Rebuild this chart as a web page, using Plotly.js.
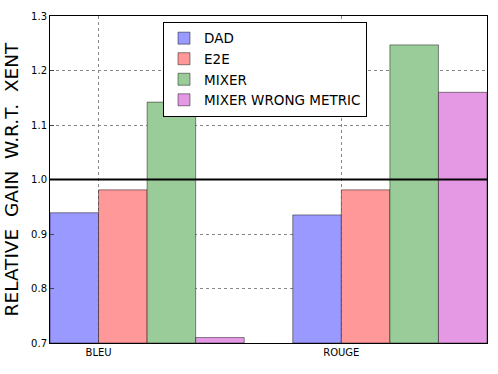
<!DOCTYPE html>
<html>
<head>
<meta charset="utf-8">
<script src="https://cdn.plot.ly/plotly-3.0.1.min.js"></script>
<style>
  html, body { margin: 0; padding: 0; background: #fff; }
  #plot { width: 498px; height: 374px; }
</style>
</head>
<body>
<div id="plot"></div>
<script>
// metrics on the x axis
const metrics = ["BLEU", "ROUGE"];
// group centres in bar-width units (4 bars per group, 1 bar gap)
const groupCenters = [2, 7];

// relative gain w.r.t. XENT
const seriesNames = ["DAD", "E2E", "MIXER", "MIXER WRONG METRIC"];
const dad = [0.939, 0.935];
const e2e = [0.981, 0.981];
const mixer = [1.142, 1.247];
const mixerWrong = [0.710, 1.160];

const colors = ["#9999ff", "#ff9999", "#99cc99", "#e599e5"];
const values = [dad, e2e, mixer, mixerWrong];
const yBottom = 0.7;

// each group label sits at the edge between the 1st and 2nd bar
const tickPos = groupCenters.map(c => c - 1);

// bars grow up from the bottom of the axis
let traces = seriesNames.map((name, i) => ({
    x: groupCenters,
    y: values[i].map(v => v - yBottom),
    base: yBottom,
    name: name,
    type: "bar",
    marker: {color: colors[i], line: {color: "rgba(0,0,0,0.45)", width: 1}},
    hoverinfo: "name"
}));

let layout = {
    width: 498,
    height: 374,
    margin: {l: 50, r: 11, t: 16, b: 31},
    paper_bgcolor: "#fff",
    plot_bgcolor: "#fff",
    font: {family: "DejaVu Sans, sans-serif", color: "#000"},
    barmode: "group",
    bargap: 0.2,
    bargroupgap: 0,
    showlegend: true,
    legend: {
        x: 0.2586, y: 0.982, xanchor: "left", yanchor: "top",
        bordercolor: "#000", borderwidth: 1, bgcolor: "#fff",
        font: {size: 13.5}, tracegroupgap: 0, itemwidth: 30
    },
    xaxis: {
        range: [0, 9],
        tickvals: tickPos,
        ticktext: metrics,
        tickfont: {size: 10},
        showgrid: true,
        gridcolor: "#888",
        griddash: "dot",
        gridwidth: 1,
        showline: true,
        linecolor: "#000",
        mirror: true,
        ticks: "",
        zeroline: false
    },
    yaxis: {
        range: [0.7, 1.3],
        tickvals: [0.7, 0.8, 0.9, 1.0, 1.1, 1.2, 1.3],
        ticktext: ["0.7", "0.8", "0.9", "1.0", "1.1", "1.2", "1.3"],
        tickfont: {size: 10},
        showgrid: true,
        gridcolor: "#888",
        griddash: "dot",
        gridwidth: 1,
        showline: true,
        linecolor: "#000",
        mirror: true,
        ticks: "inside",
        ticklen: 4,
        zeroline: false,
        title: {text: "RELATIVE  GAIN  W.R.T.  XENT", font: {size: 18.5}, standoff: 7}
    },
    shapes: [{
        type: "line", xref: "paper", x0: 0, x1: 1, yref: "y", y0: 1.0, y1: 1.0,
        line: {color: "#000", width: 2}
    }]
};

Plotly.newPlot("plot", traces, layout, {displayModeBar: false});
</script>
</body>
</html>
